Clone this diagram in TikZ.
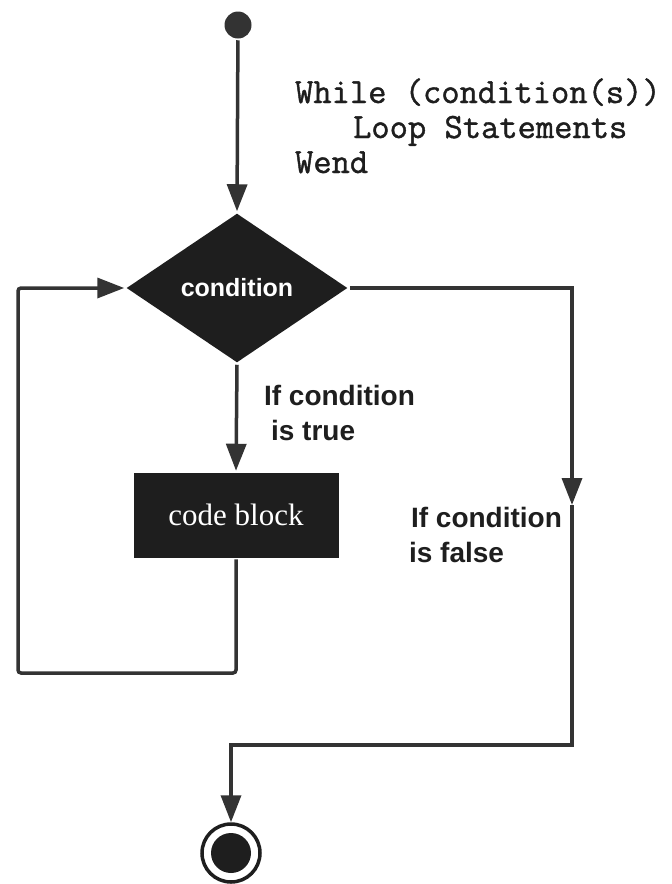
\documentclass[tikz,border=0pt]{standalone}
\usepackage{fontspec}
\setmainfont{Liberation Serif}
\setsansfont{Liberation Sans}
\newfontfamily\codefont{Latin Modern Mono}[FakeBold=1.2]
\usetikzlibrary{shapes.geometric, arrows.meta, positioning}

\definecolor{ink}{HTML}{1E1E1E}
\definecolor{wire}{HTML}{333333}

\begin{document}
\begin{tikzpicture}[
    x=1pt, y=-1pt,
    line width=3.5pt,
    flow/.style={draw=wire, -{Triangle[length=27pt, width=20pt]}},
    startdot/.style={circle, fill=wire, minimum size=27pt, inner sep=0pt},
    enddot/.style={circle, draw=ink, line width=3.5pt, minimum size=58pt, inner sep=0pt,
        path picture={\fill[ink] (path picture bounding box.center) circle (20pt);}},
    decision/.style={diamond, fill=ink, text=white, aspect=1.48,
        minimum width=222pt, minimum height=150pt, inner sep=0pt,
        font=\sffamily\bfseries\fontsize{25}{30}\selectfont},
    block/.style={rectangle, fill=ink, text=white, minimum width=205pt,
        minimum height=85pt, font=\rmfamily\fontsize{31}{36}\selectfont},
    label/.style={anchor=base west, text=ink, font=\sffamily\bfseries\fontsize{28}{32}\selectfont},
    code/.style={anchor=base west, text=ink, font=\codefont\fontsize{35.5}{40}\selectfont}
]

    \useasboundingbox (0,0) rectangle (672,884);

    % Pseudo code
    \node[code] (code1) at (290,103) {While (condition(s))};
    \node[code] (code2) at (348,138) {Loop Statements};
    \node[code] (code3) at (290,173) {Wend};

    % Nodes
    \node[startdot] (start) at (238,25) {};
    \node[decision] (cond) at (237,288) {condition};
    \node[block] (body) at (236,515) {code block};
    \node[enddot] (stop) at (231,853) {};

    % Helper points
    \coordinate (fork) at (572,505);
    \coordinate (join) at (572,745);
    \coordinate (back) at (18,673);

    % Connectors
    \draw[flow] (start) -- (cond.north);
    \draw[flow] (cond.south) -- (body.north);
    \draw[flow, rounded corners=3pt] (body.south) |- (back) |- (cond.west);
    \draw[flow] (cond.east) -| (fork);
    \draw[flow] (fork) -- (join) -| (stop.north);

    % Labels
    \node[label] (truelbl1) at (259,405) {If condition};
    \node[label] (truelbl2) at (266,440) {is true};
    \node[label] (falselbl1) at (406,527) {If condition};
    \node[label] (falselbl2) at (404,562) {is false};

\end{tikzpicture}
\end{document}
